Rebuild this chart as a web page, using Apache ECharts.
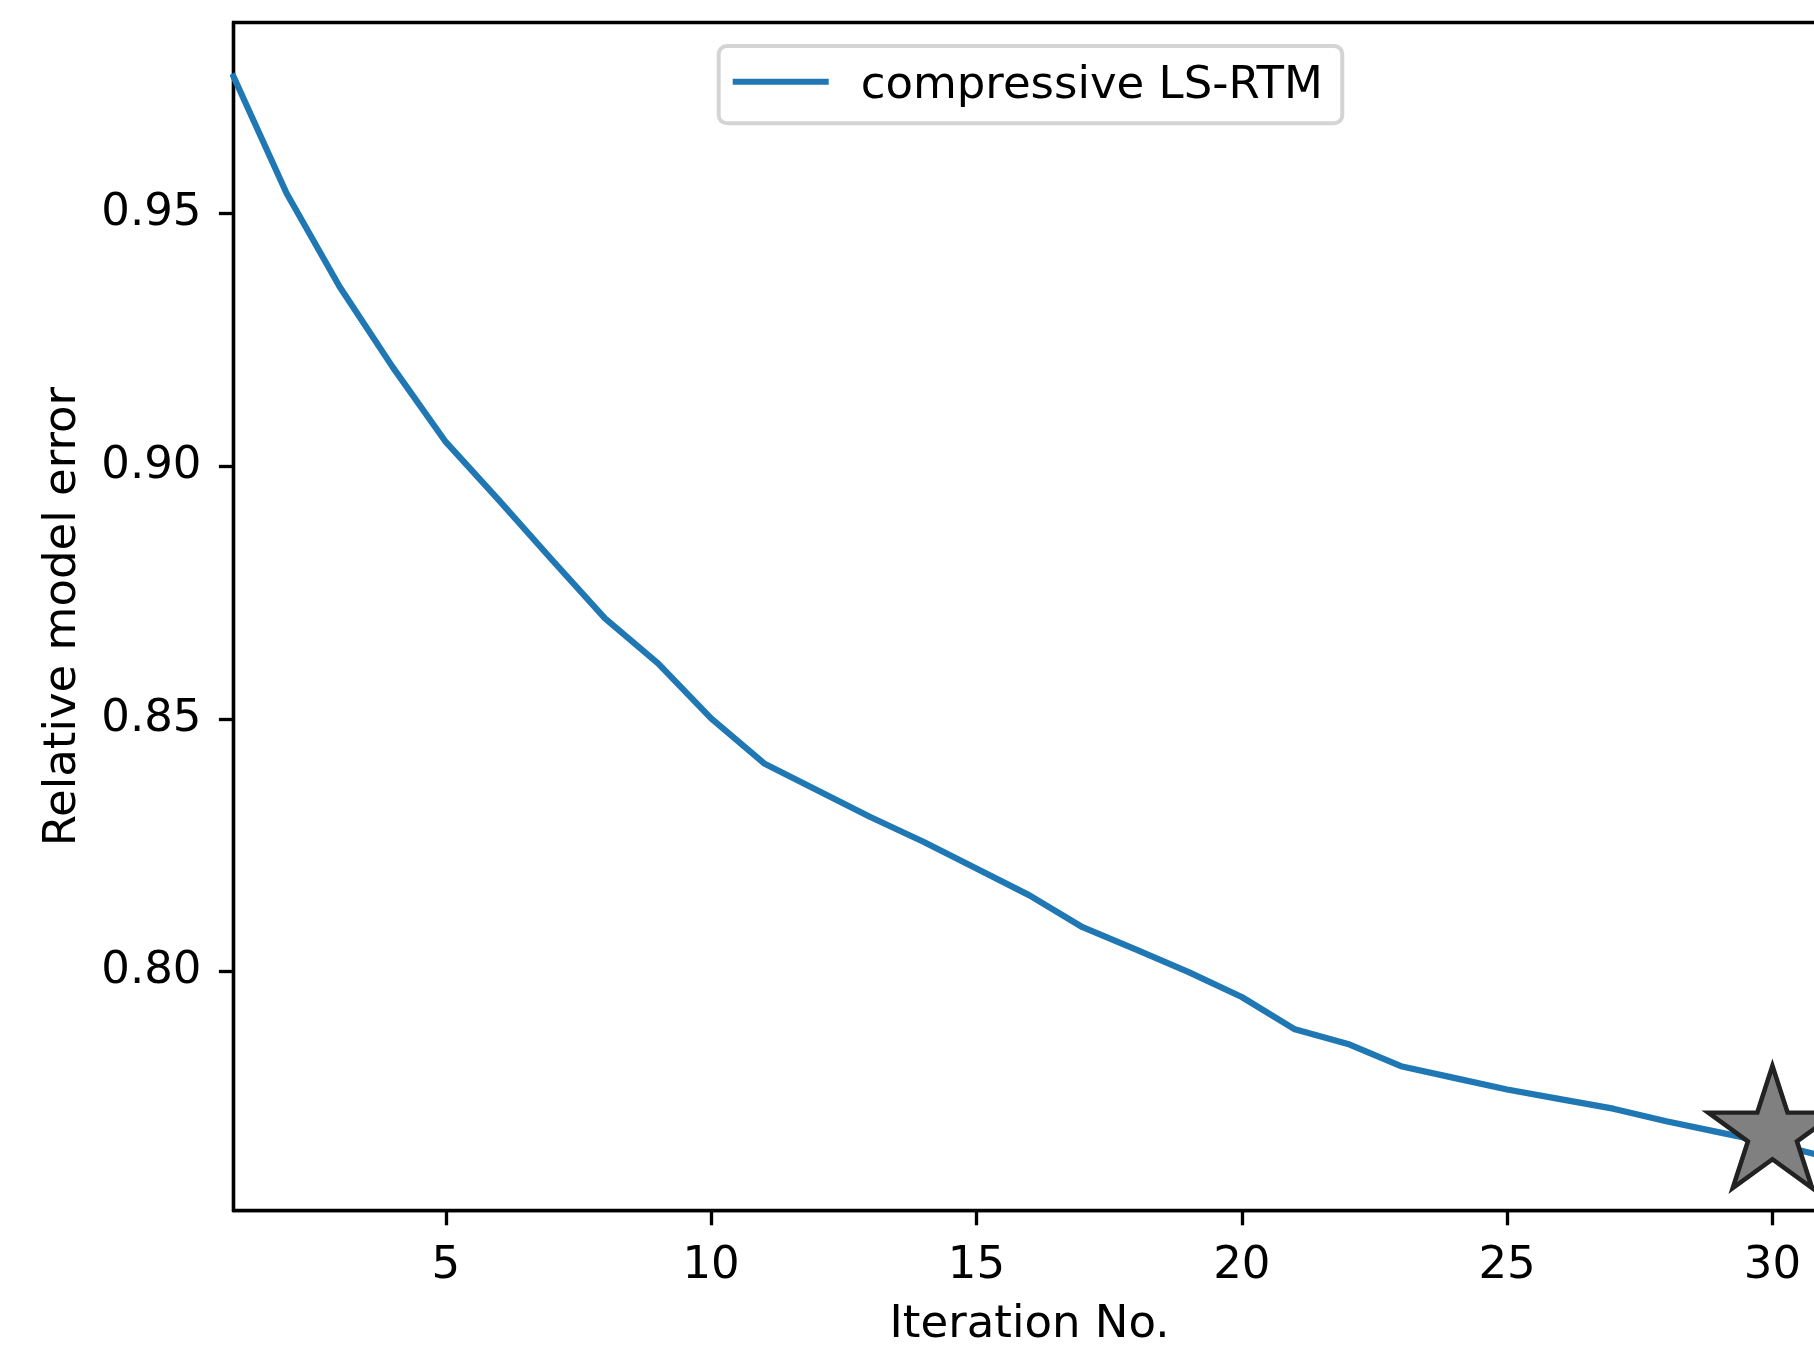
<!DOCTYPE html>
<html>
<head>
<meta charset="utf-8">
<title>Relative model error per iteration</title>
<script src="https://cdn.jsdelivr.net/npm/echarts@6/dist/echarts.min.js"></script>
<style>
  html, body { margin: 0; padding: 0; overflow: hidden; background: #ffffff; }
  #chart { width: 1840px; height: 1345px; }
</style>
</head>
<body>
<div id="chart"></div>
<script>
// Iteration numbers and the relative model error after each iteration
const iterations = [1, 2, 3, 4, 5, 6, 7, 8, 9, 10, 11, 12, 13, 14, 15, 16,
                    17, 18, 19, 20, 21, 22, 23, 24, 25, 26, 27, 28, 29, 30, 31];
const modelError = [0.9771, 0.9540, 0.9355, 0.9196, 0.9048, 0.8933, 0.8815, 0.8699,
                    0.8610, 0.8501, 0.8412, 0.8359, 0.8306, 0.8257, 0.8204, 0.8151,
                    0.8088, 0.8044, 0.7999, 0.7950, 0.7886, 0.7857, 0.7813, 0.7790,
                    0.7767, 0.7748, 0.7729, 0.7704, 0.7682, 0.7660, 0.7634];

// Highlighted iterate (star marker)
const starIteration = [30];
const starError = [0.768];

// Tick positions
const xTicks = [5, 10, 15, 20, 25, 30];
const yTicks = [0.80, 0.85, 0.90, 0.95];

const seriesName = 'compressive LS-RTM';

// y range: data extent padded by 5% on both sides
const yMinData = Math.min(...modelError);
const yMaxData = Math.max(...modelError);
const yPad = 0.05 * (yMaxData - yMinData);
const yMin = yMinData - yPad;
const yMax = yMaxData + yPad;

const FONT = 'DejaVu Sans';
const FS = 45;

// Five-pointed star, outer radius 100, inner radius 38.2
const STAR_PATH = 'path://M0,-100 L-22.45,-30.9 L-95.11,-30.9 L-36.33,11.8 L-58.78,80.9 ' +
                  'L0,38.2 L58.78,80.9 L36.33,11.8 L95.11,-30.9 L22.45,-30.9 Z';
const STAR_R = 67.5;

const lineData = iterations.map((x, i) => [x, modelError[i]]);
const starData = starIteration.map((x, i) => [x, starError[i]]);

const chart = echarts.init(document.getElementById('chart'), null, { renderer: 'canvas' });

chart.setOption({
  animation: false,
  backgroundColor: '#ffffff',
  textStyle: { fontFamily: FONT, color: '#000000' },
  grid: {
    left: 233.5,
    right: 14.5,
    top: 22.5,
    bottom: 134.3,
    outerBoundsMode: 'none',
    containLabel: false,
    show: true,
    borderColor: '#000000',
    borderWidth: 3.33,
    backgroundColor: 'transparent'
  },
  legend: {
    left: 718.7,
    top: 46,
    orient: 'horizontal',
    selectedMode: false,
    data: [{ name: seriesName, icon: 'rect' }],
    itemWidth: 96,
    itemHeight: 6,
    padding: [18.3, 19.5, 13.9, 14],
    backgroundColor: '#ffffff',
    borderColor: '#d4d4d4',
    borderWidth: 4,
    borderRadius: 8,
    // spacer token sets the gap after the handle and drops the label slightly
    formatter: '{s| }{a|{name}}',
    textStyle: {
      fontFamily: FONT,
      fontSize: FS,
      color: '#000000',
      rich: {
        s: { width: 27, lineHeight: 55, fontSize: 10 },
        a: { fontFamily: FONT, fontSize: FS, color: '#000000', lineHeight: 50, verticalAlign: 'bottom' }
      }
    }
  },
  xAxis: {
    type: 'value',
    min: iterations[0],
    max: iterations[iterations.length - 1],
    name: 'Iteration No.',
    nameLocation: 'middle',
    nameGap: 92.5,
    nameTextStyle: { fontFamily: FONT, fontSize: FS, color: '#000000', lineHeight: 45 },
    axisLine: { show: true, onZero: false, lineStyle: { color: '#000000', width: 3.33 } },
    axisTick: {
      show: true, inside: false, length: 14.6,
      customValues: xTicks,
      lineStyle: { color: '#000000', width: 3.33 }
    },
    axisLabel: {
      show: true, margin: 33.4,
      customValues: xTicks,
      fontFamily: FONT, fontSize: FS, color: '#000000', lineHeight: 45,
      formatter: v => String(v)
    },
    splitLine: { show: false }
  },
  yAxis: {
    type: 'value',
    min: yMin,
    max: yMax,
    name: 'Relative model error',
    nameLocation: 'middle',
    nameRotate: 90,
    nameGap: 147.5,
    nameTextStyle: { fontFamily: FONT, fontSize: FS, color: '#000000', lineHeight: 45 },
    axisLine: { show: true, onZero: false, lineStyle: { color: '#000000', width: 3.33 } },
    axisTick: {
      show: true, inside: false, length: 14.6,
      customValues: yTicks,
      lineStyle: { color: '#000000', width: 3.33 }
    },
    axisLabel: {
      show: true, margin: 32,
      customValues: yTicks,
      fontFamily: FONT, fontSize: FS, color: '#000000', lineHeight: 45,
      padding: [2, 0, 0, 0],
      formatter: v => v.toFixed(2)
    },
    splitLine: { show: false }
  },
  series: [
    {
      name: seriesName,
      type: 'line',
      data: lineData,
      showSymbol: false,
      symbol: 'none',
      clip: true,
      silent: true,
      color: '#1f77b4',
      lineStyle: { color: '#1f77b4', width: 6.25, join: 'round', cap: 'square' },
      z: 2
    },
    {
      name: 'star',
      type: 'scatter',
      data: starData,
      symbol: STAR_PATH,
      symbolSize: [1.902 * STAR_R, 1.809 * STAR_R],
      symbolOffset: [0, -0.0955 * STAR_R],
      silent: true,
      clip: false,
      itemStyle: {
        color: '#808080',
        borderColor: '#222222',
        borderWidth: 4.5,
        borderJoin: 'miter',
        borderMiterLimit: 10,
        opacity: 1
      },
      z: 3
    }
  ]
});
</script>
</body>
</html>
